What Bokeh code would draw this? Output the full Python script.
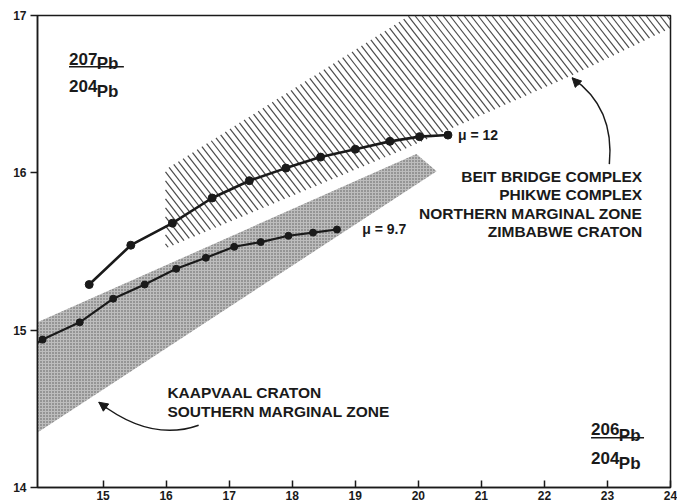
import math
import numpy as np
from bokeh.plotting import figure
from bokeh.models import FixedTicker, Label, Arrow, NormalHead
from bokeh.embed import file_html
from bokeh.resources import INLINE

# ---- data ----
mu12_x = [14.78, 15.44, 16.10, 16.73, 17.32, 17.90, 18.45, 19.00, 19.55, 20.02, 20.47]
mu12_y = [15.29, 15.54, 15.68, 15.84, 15.95, 16.03, 16.10, 16.15, 16.20, 16.23, 16.24]

mu97_x = [14.04, 14.63, 15.16, 15.66, 16.16, 16.63, 17.08, 17.50, 17.94, 18.33, 18.71]
mu97_y = [14.94, 15.05, 15.20, 15.29, 15.39, 15.46, 15.53, 15.56, 15.60, 15.62, 15.64]
mu97_line_start = (13.96, 14.92)

zim_x = [15.99, 15.99, 19.66, 22.44, 24.0, 24.0, 19.86]
zim_y = [16.02, 15.52, 16.13, 16.62, 16.92, 17.0, 17.0]

kaap_x = [13.96, 19.97, 20.29, 13.96]
kaap_y = [15.05, 16.12, 16.01, 14.35]

x_ticks = [15, 16, 17, 18, 19, 20, 21, 22, 23, 24]
y_ticks = [14, 15, 16, 17]

zim_labels = ["BEIT BRIDGE COMPLEX", "PHIKWE COMPLEX", "NORTHERN MARGINAL ZONE", "ZIMBABWE CRATON"]
kaap_labels = ["KAAPVAAL CRATON", "SOUTHERN MARGINAL ZONE"]

FONT = "Liberation Sans"
INK = "#1a1a1a"
X0, X1, Y0, Y1 = 13.96, 24.0, 14.0, 17.0
W, H = 677, 502
ML, MR, MT, AXB = 37, 7, 15, 17

p = figure(width=W, height=H, x_range=(X0, X1), y_range=(Y0, Y1),
           output_backend="svg", toolbar_location=None,
           min_border_left=ML, min_border_right=MR, min_border_top=MT, min_border_bottom=0)
p.grid.visible = False
p.outline_line_color = INK
p.outline_line_width = 1.5
p.background_fill_color = "white"

for ax in (p.xaxis[0], p.yaxis[0]):
    ax.axis_line_color = INK
    ax.axis_line_width = 1.5
    ax.major_tick_line_color = INK
    ax.major_tick_line_width = 1.5
    ax.minor_tick_line_color = None
    ax.major_label_text_font = FONT
    ax.major_label_text_font_style = "bold"
    ax.major_label_text_font_size = "12px"
    ax.major_label_text_color = INK

p.xaxis.ticker = FixedTicker(ticks=x_ticks)
p.yaxis.ticker = FixedTicker(ticks=y_ticks)
p.xaxis.major_tick_in = 7
p.xaxis.major_tick_out = 0
p.xaxis.major_label_standoff = 3
p.yaxis.major_tick_in = 0
p.yaxis.major_tick_out = 7
p.yaxis.major_label_standoff = 4

# ---- hatch lines clipped to a polygon (screen-space angle) ----
sx = (W - ML - MR) / (X1 - X0)
sy = (H - MT - AXB) / (Y1 - Y0)

def hatch_segments(px, py, spacing=7.0, angle=52.0):
    u = np.array([(x - X0) * sx for x in px])
    v = np.array([(y - Y0) * sy for y in py])
    k = math.tan(math.radians(angle))
    c_all = v + k * u
    step = spacing * k
    xs0, ys0, xs1, ys1 = [], [], [], []
    n = len(u)
    c = c_all.min() + step / 2
    while c < c_all.max():
        hits = []
        for i in range(n):
            j = (i + 1) % n
            fa = v[i] + k * u[i] - c
            fb = v[j] + k * u[j] - c
            if fa * fb < 0:
                t = fa / (fa - fb)
                hits.append(u[i] + t * (u[j] - u[i]))
        hits.sort()
        for a, b in zip(hits[0::2], hits[1::2]):
            xs0.append(a / sx + X0); ys0.append((c - k * a) / sy + Y0)
            xs1.append(b / sx + X0); ys1.append((c - k * b) / sy + Y0)
        c += step
    return xs0, ys0, xs1, ys1

# ---- shaded fields ----
p.patch(kaap_x, kaap_y, fill_color="#bdbdbd", fill_alpha=1.0, line_alpha=0,
        hatch_pattern=".", hatch_scale=3, hatch_color="#5a5a5a", hatch_weight=1)
hx0, hy0, hx1, hy1 = hatch_segments(zim_x, zim_y)
p.segment(x0=hx0, y0=hy0, x1=hx1, y1=hy1, line_color="#4a4a4a", line_width=1.2)

# ---- growth curves ----
p.line([mu97_line_start[0]] + mu97_x, [mu97_line_start[1]] + mu97_y, line_color=INK, line_width=2.2)
p.scatter(mu97_x, mu97_y, size=7, color=INK)
p.line(mu12_x, mu12_y, line_color=INK, line_width=2.6)
p.scatter(mu12_x, mu12_y, size=8, color=INK)

def lab(x, y, text, size="15.5px", align="left", baseline="middle"):
    p.add_layout(Label(x=x, y=y, text=text, text_font=FONT, text_font_style="bold",
                       text_font_size=size, text_color=INK, text_align=align,
                       text_baseline=baseline))

lab(mu12_x[-1] + 0.16, mu12_y[-1], "\u03bc = 12", size="14px")
lab(mu97_x[-1] + 0.40, mu97_y[-1], "\u03bc = 9.7", size="14px")

zim_y_pos = [15.978, 15.863, 15.742, 15.627]
for t, yy in zip(zim_labels, zim_y_pos):
    lab(23.55, yy, t, align="right")
kaap_y_pos = [14.606, 14.485]
for t, yy in zip(kaap_labels, kaap_y_pos):
    lab(16.02, yy, t, align="left")

# axis-ratio titles
lab(14.46, 16.725, "207", size="17px", baseline="alphabetic")
lab(14.90, 16.693, "Pb", size="17px", baseline="alphabetic")
lab(14.46, 16.553, "204", size="17px", baseline="alphabetic")
lab(14.90, 16.514, "Pb", size="17px", baseline="alphabetic")
p.segment(x0=[14.46], y0=[16.674], x1=[15.33], y1=[16.674], line_color=INK, line_width=1.5)

lab(22.74, 14.37, "206", size="17px", baseline="alphabetic")
lab(23.18, 14.332, "Pb", size="17px", baseline="alphabetic")
lab(22.74, 14.19, "204", size="17px", baseline="alphabetic")
lab(23.18, 14.153, "Pb", size="17px", baseline="alphabetic")
p.segment(x0=[22.74], y0=[14.316], x1=[23.58], y1=[14.316], line_color=INK, line_width=1.5)

# ---- curved arrows ----
p.bezier(x0=[23.03], y0=[16.055], x1=[22.44], y1=[16.604],
         cx0=[23.105], cy0=[16.361], cx1=[22.74], cy1=[16.521], line_color=INK, line_width=1.5)
p.add_layout(Arrow(end=NormalHead(size=9, fill_color=INK, line_color=INK),
                   x_start=22.55, y_start=16.559, x_end=22.44, y_end=16.604,
                   line_color=INK, line_width=1.5))
p.quadratic(x0=[16.516], y0=[14.396], x1=[14.932], y1=[14.542],
            cx=[15.756], cy=[14.287], line_color=INK, line_width=1.5)
p.add_layout(Arrow(end=NormalHead(size=9, fill_color=INK, line_color=INK),
                   x_start=15.06, y_start=14.504, x_end=14.932, y_end=14.542,
                   line_color=INK, line_width=1.5))

open("out.html", "w").write(file_html(p, INLINE))
